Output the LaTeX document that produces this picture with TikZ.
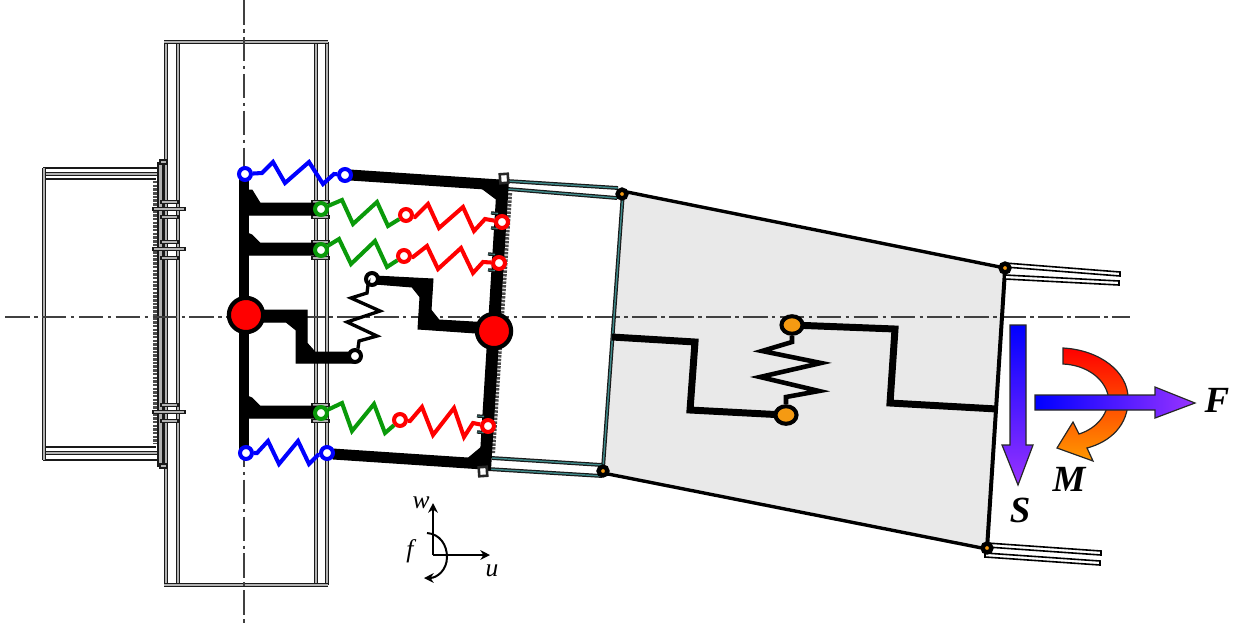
\documentclass[tikz,border=0pt]{standalone}
\usepackage{fontspec}
\setmainfont{Liberation Serif}
\usepackage{xcolor}
\definecolor{pinblue}{HTML}{0000FF}
\definecolor{pingreen}{HTML}{0A9A0A}
\definecolor{pinred}{HTML}{FF0000}
\definecolor{pinorange}{HTML}{F59A12}
\definecolor{channelc}{HTML}{3F8A8A}
\definecolor{platec}{HTML}{E9E9E9}
\definecolor{arrowpurple}{HTML}{9933FF}
\definecolor{arroworange}{HTML}{FF9900}
\tikzset{
  px/.style={line width=#1*0.567pt},
  axisline/.style={draw=black!75, px=1.8, dash pattern=on 14pt off 2.5pt on 2pt off 2.5pt},
  steel/.style={draw=black!90, double=black!30, double distance=0.8pt, line width=0.7pt},
  steelbox/.style={draw=black!90, fill=black!30, px=1.2},
  channel/.style={draw=black!90, double=channelc, double distance=0.8pt, line width=0.7pt},
  link/.style={draw=black, fill=black, px=1, line join=miter},
  bar/.style={draw=black, px=11, line cap=butt},
  hinge/.style={circle, draw=#1, fill=white, inner sep=0pt, minimum size=6.8pt, line width=2.3pt},
  bighinge/.style={circle, draw=black, fill=pinred, inner sep=0pt, minimum size=19.5pt, line width=2.4pt},
  corner/.style={circle, draw=black, fill=pinorange, inner sep=0pt, minimum size=5pt, line width=2.5pt},
  pivot/.style={ellipse, draw=black, fill=pinorange, inner sep=0pt, minimum width=12pt, minimum height=10pt, line width=2.3pt},
  spring/.style={draw=#1, line width=2.3pt, line join=miter},
  weld/.style={draw=black!70, line width=2.4pt, dash pattern=on 1.4pt off 0.7pt},
  strip/.style={draw=black, fill=white, px=1.6},
  force/.style={shading angle=0, draw=black!85, px=1.2},
  bigletter/.style={font=\fontsize{21}{21}\selectfont\bfseries\itshape, inner sep=0pt},
  smallletter/.style={font=\fontsize{14.5}{15}\selectfont\itshape, inner sep=0pt},
  thinarrow/.style={draw=black, px=2, -{Stealth[length=5.5pt,width=5.5pt]}},
}
\usetikzlibrary{arrows.meta,shapes.geometric}
\begin{document}
\begin{tikzpicture}[x=0.02cm,y=-0.02cm]
\useasboundingbox (0,0) rectangle (1239,626);
% plate
\fill[platec] (622,192) -- (1005,268) -- (987,548) -- (603,472) -- cycle;
% column
\foreach \xx in {166,178,316,327} \draw[steel] (\xx,42) -- (\xx,585);
\draw[steel] (164,42) -- (328,42);
\draw[steel] (164,585) -- (328,585);
% beam stub
\draw[black!90,px=1.6] (158,168) -- (44,168) -- (44,460) -- (158,460);
\draw[steel] (44,174) -- (158,174);
\draw[steel] (44,453) -- (158,453);
\draw[black!90,px=1.6] (44,179) -- (156,179);
\draw[black!90,px=1.6] (44,447) -- (156,447);
\draw[steel] (44,168) -- (44,460);
\draw[steelbox] (158,163) rectangle (163,466);
\draw[steelbox] (160,160) rectangle (167,164);
\draw[steelbox] (160,464) rectangle (167,468);
\draw[weld] (155,181) -- (155,444);
\foreach \yy/\yt/\yb in {209/202/217,249/242/258,412/405/421}{
  \draw[steelbox] (153,\yy-1.5) rectangle (185,\yy+1.5);
  \draw[steelbox] (161,\yt-1.5) rectangle (178,\yt+1.5);
  \draw[steelbox] (161,\yb-1.5) rectangle (178,\yb+1.5);
  \draw[steelbox] (312,\yt-1.5) rectangle (329,\yt+1.5);
  \draw[steelbox] (312,\yb-1.5) rectangle (329,\yb+1.5);
}
% center lines
\draw[axisline] (5,317) -- (1130,317);
\draw[axisline] (244,0) -- (244,626);
% plate edges and links
\draw[black,px=3.4] (622,191) -- (1005,268);
\draw[black,px=4] (1005,270) -- (987,549);
\draw[black,px=3.4] (603,473) -- (987,549);
\draw[channel] (623,192) -- (603,468);
\draw[black,px=7,line join=miter] (612,337) -- (695,342) -- (690,410) -- (785,415);
\draw[black,px=7,line join=miter] (792,325) -- (895,329) -- (890,403) -- (997,409);
\node[pivot] (ptop) at (792,325) {};
\node[pivot] (pbot) at (786,415) {};
\draw[spring=black,line width=2.6pt] (pbot) -- (786,397) -- (819,391) -- (760,377) -- (821,363) -- (762,351) -- (792,342) -- (ptop);
% strips
\draw[strip] (1005,263) -- (1120,272) -- (1120,276) -- (1005,267) -- cycle;
\draw[strip] (1005,275) -- (1119,281) -- (1119,285) -- (1005,279) -- cycle;
\draw[strip] (987,543) -- (1101,551) -- (1101,555) -- (987,547) -- cycle;
\draw[strip] (985,553) -- (1100,561) -- (1100,565) -- (985,557) -- cycle;
% channels
\draw[channel] (507,181) -- (618,188);
\draw[channel] (508,189) -- (617,198);
\draw[channel] (492,458) -- (602,465);
\draw[channel] (488,469) -- (602,476);
\node[corner] (ca) at (622,194) {};
\node[corner] (cb) at (1005,268) {};
\node[corner] (cc) at (987,548) {};
\node[corner] (cd) at (603,471) {};
% left frame
\draw[bar] (244,173) -- (244,452);
\fill[link] (240,190) -- (252,190) -- (260,203) -- (320,203) -- (320,215) -- (240,215) -- cycle;
\fill[link] (240,230) -- (252,235) -- (260,243) -- (320,243) -- (320,255) -- (240,255) -- cycle;
\fill[link] (240,393) -- (252,398) -- (260,406) -- (320,406) -- (320,418) -- (240,418) -- cycle;
\fill[link] (250,310) -- (307,310) -- (307,343) -- (315,352) -- (355,352) -- (355,363) -- (296,363) -- (296,330) -- (286,322) -- (250,322) -- cycle;
% right frame
\draw[weld] (510,193) -- (493,453);
\draw[black,px=12] (503,180) -- (485,470);
\draw[bar] (350,175) -- (500,185);
\draw[bar] (333,454) -- (483,464);
\fill[link] (480,187) -- (500,187) -- (500,202) -- cycle;
\fill[link] (466,460) -- (484,460) -- (484,445) -- cycle;
\fill[link] (375,276) -- (433,279) -- (431,310) -- (439,320) -- (490,323) -- (490,334) -- (418,329) -- (420,297) -- (412,287) -- (375,284) -- cycle;
\foreach \xa/\ya in {491/213,491/228,488/254,488/270,477/416,477/432}
  \draw[channel,double distance=0.5pt] (\xa,\ya) -- ++(7,0.4);
\draw[black!85,fill=white,px=2.6,rotate around={4:(504,178)}] (500,174) rectangle (508,183);
\draw[black!85,fill=white,px=2.6,rotate around={4:(483,472)}] (479,467) rectangle (487,476);
% springs
\node[bighinge] (hl) at (246,315) {};
\node[bighinge] (hr) at (494,331) {};
\node[hinge=pinblue] (ba) at (245,174) {};
\node[hinge=pinblue] (bb) at (345,175) {};
\node[hinge=pinblue] (bc) at (246,453) {};
\node[hinge=pinblue] (bd) at (327,453) {};
\draw[spring=pinblue] (ba) -- (262,173) -- (273,162) -- (285,183) -- (309,162) -- (323,184) -- (334,174) -- (bb);
\draw[spring=pinblue] (bc) -- (257,453) -- (268,441) -- (279,464) -- (298,441) -- (309,464) -- (318,455) -- (bd);
\node[hinge=pingreen] (ga) at (321,209) {};
\node[hinge=pingreen] (gb) at (321,250) {};
\node[hinge=pingreen] (gc) at (321,413) {};
\node[hinge=pinred] (ra) at (406,215) {};
\node[hinge=pinred] (rb) at (404,256) {};
\node[hinge=pinred] (rc) at (400,420) {};
\node[hinge=pinred] (sa) at (502,222) {};
\node[hinge=pinred] (sb) at (499,263) {};
\node[hinge=pinred] (sc) at (488,426) {};
\draw[spring=pingreen] (ga) -- (342,200) -- (353,224) -- (377,202) -- (388,226) -- (ra);
\draw[spring=pingreen] (gb) -- (339,239) -- (351,264) -- (375,241) -- (387,267) -- (rb);
\draw[spring=pingreen] (gc) -- (342,403) -- (352,431) -- (374,404) -- (385,433) -- (rc);
\draw[spring=pinred] (ra) -- (415,217) -- (428,204) -- (439,228) -- (463,207) -- (474,231) -- (485,219) -- (sa);
\draw[spring=pinred] (rb) -- (413,257) -- (427,246) -- (438,269) -- (461,248) -- (473,273) -- (483,262) -- (sb);
\draw[spring=pinred] (rc) -- (410,421) -- (422,407) -- (433,435) -- (454,408) -- (464,437) -- (473,423) -- (sc);
\node[hinge=black] (ka) at (355,356) {};
\node[hinge=black] (kb) at (372,279) {};
\draw[spring=black,line width=1.9pt] (ka) -- (358,348) -- (359,341) -- (377,336) -- (347,322) -- (380,311) -- (351,298) -- (367,293) -- (368,285) -- (kb);
% load arrows
\shadedraw[force,top color=pinblue,bottom color=arrowpurple] (1010,325) -- (1026,325) -- (1026,445) -- (1033,445) -- (1018,485) -- (1002,445) -- (1010,445) -- cycle;
\shadedraw[force,top color=pinred,bottom color=arroworange] (1063,348) .. controls (1100,350) and (1128,372) .. (1128,398) .. controls (1129,425) and (1110,442) .. (1087,448) -- (1093,461) -- (1057,448) -- (1073,422) -- (1079,434) .. controls (1098,428) and (1110,412) .. (1108,395) .. controls (1104,378) and (1086,365) .. (1063,364) -- cycle;
\shadedraw[force,left color=pinblue,right color=arrowpurple] (1035,395) -- (1155,395) -- (1155,387) -- (1195,403) -- (1155,418) -- (1155,410) -- (1035,410) -- cycle;
\node[bigletter] (forcef) at (1217,400) {F};
\node[bigletter] (forcem) at (1069,479) {M};
\node[bigletter] (forces) at (1020,510) {S};
% reference axes
\coordinate (ax) at (433,555);
\coordinate (axw) at (433,503);
\coordinate (axu) at (490,555);
\draw[thinarrow] (ax) -- (axw);
\draw[thinarrow] (ax) -- (axu);
\draw[thinarrow] (427,533) .. controls (440,534) and (447,545) .. (447,557) .. controls (447,570) and (437,578) .. (424,578);
\node[smallletter] (lw) at (421,503) {w};
\node[smallletter] (lu) at (492,571) {u};
\node[smallletter] (lf) at (410,551) {f};
\end{tikzpicture}
\end{document}
